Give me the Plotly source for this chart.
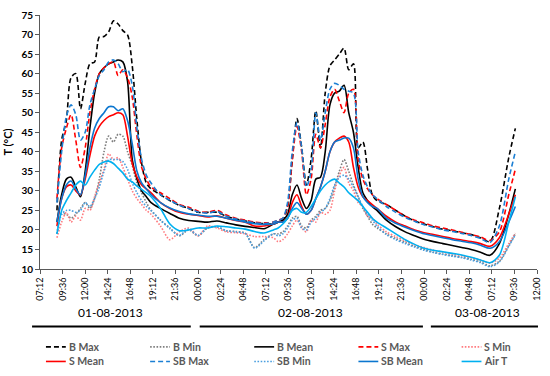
import plotly.graph_objects as go
import pandas as pd

# ---------------- data ----------------
# hours after 2013-08-01 00:00
hours = [9, 9.5, 10, 10.5, 11, 11.5, 12, 12.5, 13, 13.5, 14, 14.5, 15, 15.5, 16, 16.5, 17, 17.5, 18, 18.5, 19,
         20, 21, 22, 23, 24, 25, 26, 27, 28, 29, 30, 31,
         32, 32.5, 33, 33.5, 34, 34.5, 35, 35.5, 36, 36.5, 37, 37.5, 38, 38.5, 39, 39.5, 40, 40.5, 41, 41.5, 42, 42.5, 43,
         44, 45, 46, 47, 48, 49, 50, 51, 52, 53, 54, 55, 56, 57, 57.7]

b_max = [25, 43, 48, 59, 60, 51, 57.5, 62.5, 63, 69.4, 69.5, 70.7, 73.5, 72.7, 71, 69.9, 62, 48, 37, 32, 30.5,
         29, 27.5, 26.3, 25.5, 24.5, 24.5, 24.5, 23.5, 22.8, 22.3, 21.8, 21.6,
         21.5, 22, 22.5, 26, 38, 48.5, 41, 31.5, 38, 50.5, 41, 55, 62, 63.5, 65, 66.5, 61, 62.5, 41, 42.5, 35.5, 29, 27.5,
         26.5, 25, 23.5, 22.3, 21.5, 20.8, 20.2, 19.8, 19.3, 18.8, 18, 17, 25.5, 38.5, 46]
b_min = [19, 24, 24, 23, 24, 25.5, 27, 25.5, 28, 33, 40, 44, 42.5, 44.5, 44, 40, 36.5, 32, 29.5, 27, 25,
         22.5, 20.5, 18.5, 20, 18.5, 20.5, 20.8, 19.8, 19.6, 19.2, 15.5, 17.5,
         19, 19, 19.5, 21, 23, 23.5, 21, 20.5, 22.5, 23.5, 25, 25.5, 27.5, 31, 35, 38, 35, 31.5, 28.5, 25.5, 23.5, 21.5, 20.5,
         19, 17.8, 16.8, 15.8, 15, 14.3, 13.8, 13.4, 13, 12.5, 11.8, 10.8, 12, 16, 19]
b_mean = [22, 29, 33, 33.5, 31, 28.5, 35, 46, 55, 60, 61.5, 62.5, 63, 63.5, 63, 58, 38, 33, 30, 28.5, 27,
          25.5, 24.2, 23, 22.4, 22.2, 22, 22.3, 21.8, 21.3, 20.9, 20.6, 20.3,
          21.5, 22, 22.5, 24, 29, 31.5, 28, 25.5, 27.5, 33, 33.5, 40, 52, 55, 55.5, 57, 50, 45, 36, 29.5, 27.5, 26, 25,
          22.5, 20.8, 19.5, 18.5, 17.6, 17, 16.5, 16, 15.5, 15, 14.3, 13.5, 16.5, 24, 30.5]
s_max = [28, 41, 46, 49.5, 43, 36, 41, 50, 56, 60, 61.5, 62.5, 63, 59.5, 61, 59, 54, 44, 36, 33, 31,
         29.5, 28, 26.5, 25.8, 24.8, 24.5, 25, 23.8, 23, 22.5, 22, 21.8,
         22, 22.5, 23, 26, 38, 46.5, 40, 29, 33, 44.5, 41, 47, 54, 56, 53, 50, 55, 56, 38, 33, 30.5, 29, 28,
         26.5, 25, 23.5, 22.5, 21.8, 21, 20.5, 20, 19.4, 18.8, 18.2, 17.3, 19.5, 29, 35.5]
s_min = [18, 22, 24.5, 22, 23.5, 22.5, 25.5, 25, 28.5, 32, 35.5, 39.5, 38, 38.5, 36, 33, 30, 28, 26.5, 25, 24,
         21, 17.5, 19.5, 20.5, 18.5, 21, 20.5, 19.5, 19.3, 19, 18.3, 18.3,
         18, 17, 17.5, 19, 21, 22.5, 20.5, 19.5, 22.5, 22, 24.5, 24, 25, 30, 34, 36, 32, 30, 27, 26, 23.5, 23, 21.5,
         19.5, 18.3, 17.2, 16.2, 15.5, 14.8, 14.3, 13.8, 13.4, 12.9, 12.3, 11.5, 12.8, 16.5, 19.2]
s_mean = [21, 28, 31, 31.5, 30, 29, 33, 39, 44, 46.5, 48, 49, 49.5, 50, 49.5, 44, 37, 33.5, 31.5, 30.5, 29.5,
          27, 25.5, 24.5, 24, 23.7, 23.3, 23.6, 23, 22.4, 22, 21, 21,
          21.5, 22, 22, 23, 27, 29, 26, 24, 25, 28, 31, 35, 40, 42.5, 43.5, 44, 42.5, 36, 31, 28.5, 27.5, 26.5, 25.5,
          23.5, 22, 21, 20, 19.3, 18.8, 18.3, 17.8, 17.4, 17, 16.5, 15.8, 18, 24, 29]
sb_max = [27, 40, 49, 52, 49.5, 43, 45, 52, 56, 59.5, 61, 63, 63.5, 62.5, 60.5, 61, 57, 46, 38, 34, 32,
          29, 27.6, 26.3, 25.5, 24.6, 24.3, 24.7, 23.5, 22.8, 22.3, 21.8, 21.6,
          22, 22.5, 23, 27, 40, 47.5, 41, 31, 35, 50, 43, 50, 56, 57.5, 57, 56, 55.5, 55, 40, 34, 31, 29, 28,
          26, 24.5, 23.2, 22.2, 21.3, 20.7, 20, 19.6, 19.1, 18.6, 17.8, 16.8, 21, 33, 40]
sb_min = [19, 24, 25, 25, 24.5, 25, 27, 26, 28, 31, 35, 38, 38, 38, 37.5, 35.5, 32, 29.5, 27.5, 26, 25,
          22.5, 20.3, 18.6, 20.2, 18.6, 20.6, 20.8, 19.8, 19.5, 19.1, 15.3, 17.2,
          19, 18.5, 19, 20.5, 22.5, 23, 20.5, 20, 22, 23, 24.5, 25.5, 28, 31.5, 33.5, 34, 33, 31, 28.5, 26, 24, 22.5, 21,
          18.8, 17.5, 16.5, 15.6, 14.8, 14.2, 13.7, 13.3, 12.9, 12.3, 11.6, 10.6, 11.8, 15.8, 18.8]
sb_mean = [22, 28, 31.5, 32.5, 30.5, 29, 34, 41, 46, 48.5, 50, 51.5, 51.5, 50.5, 51, 48, 42, 35, 32, 30.5, 29,
           27, 25.6, 24.7, 24.1, 23.8, 23.5, 23.5, 23, 22.5, 22, 21.6, 21.4,
           21.5, 22, 22, 23, 25.5, 27, 25.5, 24, 25, 28, 31, 35, 40, 42.5, 43, 43.5, 43.5, 41, 33, 28.5, 27, 26, 25.5,
           23, 21.7, 20.7, 19.8, 19, 18.5, 18, 17.5, 17.1, 16.7, 16.1, 15.3, 17, 22, 26]
air_t = [19, 25, 27.5, 29.5, 31.5, 32.5, 31.5, 33.5, 35.3, 36.8, 37.4, 37.6, 37, 35.8, 34.6, 33, 32.3, 31.2, 30.4, 29.5, 28.5,
         25.5, 21.5, 19.8, 20, 20.5, 20.5, 21, 20.8, 20.5, 20.2, 19.6, 19.2,
         20, 20.5, 21.5, 23, 25, 25.5, 24.5, 24.5, 26, 28, 30, 31.5, 32.5, 33, 32, 31, 29.5, 28.5, 27.5, 26, 24.5, 23, 22,
         20.5, 19, 17.5, 16.3, 15.3, 14.8, 14.4, 14, 13.6, 13, 12.3, 11.6, 13.5, 22, 28.5]

series_names = ["B Max", "B Min", "B Mean", "S Max", "S Min",
                "S Mean", "SB Max", "SB Min", "SB Mean", "Air T"]
series_values = [b_max, b_min, b_mean, s_max, s_min, s_mean, sb_max, sb_min, sb_mean, air_t]
date_labels = ["01-08-2013", "02-08-2013", "03-08-2013"]
# x tick positions: hours after 2013-08-01 00:00, labelled HH:MM
tick_hours = [7.2, 9.6, 12.0, 14.4, 16.8, 19.2, 21.6, 24.0, 26.4, 28.8, 31.2, 33.6,
              36.0, 38.4, 40.8, 43.2, 45.6, 48.0, 50.4, 52.8, 55.2, 57.6, 60.0]
tick_text = ["07:12", "09:36", "12:00", "14:24", "16:48", "19:12", "21:36", "00:00",
             "02:24", "04:48", "07:12", "09:36", "12:00", "14:24", "16:48", "19:12",
             "21:36", "00:00", "02:24", "04:48", "07:12", "09:36", "12:00"]

# ---------------- styles ----------------
DASH = "5px,3px"
DOT = "1.6px,1.6px"
styles = {
    "B Max":   dict(color="#000000", dash=DASH, width=1.6),
    "B Min":   dict(color="#7F7F7F", dash=DOT, width=1.6),
    "B Mean":  dict(color="#000000", dash="solid", width=1.6),
    "S Max":   dict(color="#FF0000", dash=DASH, width=1.6),
    "S Min":   dict(color="#FF7C80", dash=DOT, width=1.6),
    "S Mean":  dict(color="#FF0000", dash="solid", width=1.6),
    "SB Max":  dict(color="#1B7FD4", dash=DASH, width=1.6),
    "SB Min":  dict(color="#4A9FE0", dash=DOT, width=1.6),
    "SB Mean": dict(color="#0B76CF", dash="solid", width=1.6),
    "Air T":   dict(color="#00B0F0", dash="solid", width=1.6),
}

base = pd.Timestamp("2013-08-01 00:00")
times = [base + pd.Timedelta(hours=h) for h in hours]
tick_vals = [(base + pd.Timedelta(hours=h)).strftime("%Y-%m-%d %H:%M:%S") for h in tick_hours]

FONT = "Lato, 'Open Sans', sans-serif"
W, H = 550, 376
ML, MR, MT, MB = 38, 11, 8, 107
PW, PH = W - ML - MR, H - MT - MB


def px_x(px):
    return (px - ML) / PW


def px_y(py):
    return (H - MB - py) / PH


fig = go.Figure()
for name, vals in zip(series_names, series_values):
    st = styles[name]
    fig.add_trace(go.Scatter(
        x=times, y=vals, mode="lines", name=name, showlegend=False,
        line=dict(color=st["color"], dash=st["dash"], width=st["width"],
                  shape="spline", smoothing=0.8),
        hoverinfo="skip"))

shapes = []
annotations = []

# date labels and underline bars
date_centers = [109, 311, 489]
for lbl, cx in zip(date_labels, date_centers):
    annotations.append(dict(text=lbl, x=px_x(cx), y=px_y(314), xref="paper", yref="paper",
                            showarrow=False, xanchor="center", yanchor="middle",
                            font=dict(family=FONT, size=12, color="#000000")))
for x0, x1 in [(30, 190), (199, 424), (432, 540)]:
    shapes.append(dict(type="line", xref="paper", yref="paper",
                       x0=px_x(x0), x1=px_x(x1), y0=px_y(328), y1=px_y(328),
                       line=dict(color="#000000", width=2)))

# legend (two rows of five)
col_x = [44, 149, 254, 359, 463]
row_y = [349, 364]
for i, name in enumerate(series_names):
    r, c = divmod(i, 5)
    st = styles[name]
    x0 = col_x[c]
    y = row_y[r]
    shapes.append(dict(type="line", xref="paper", yref="paper",
                       x0=px_x(x0), x1=px_x(x0 + 20), y0=px_y(y), y1=px_y(y),
                       line=dict(color=st["color"], width=1.6, dash=st["dash"])))
    annotations.append(dict(text=name, x=px_x(x0 + 21), y=px_y(y), xref="paper", yref="paper",
                            showarrow=False, xanchor="left", yanchor="middle",
                            font=dict(family=FONT, size=10.5, color="#595959", weight="bold")))

fig.update_layout(
    width=W, height=H,
    margin=dict(l=ML, r=MR, t=MT, b=MB),
    paper_bgcolor="white", plot_bgcolor="white",
    font=dict(family=FONT, color="#000000"),
    shapes=shapes, annotations=annotations,
    showlegend=False,
    xaxis=dict(
        type="date",
        range=[tick_vals[0], tick_vals[-1]],
        tickmode="array", tickvals=tick_vals, ticktext=tick_text,
        tickangle=-90, ticklabeloverflow="allow",
        ticks="outside", ticklen=4, tickcolor="#595959",
        showline=True, linecolor="#595959", linewidth=1,
        showgrid=False, zeroline=False,
        tickfont=dict(family=FONT, size=9, color="#000000"),
    ),
    yaxis=dict(
        range=[10, 75], dtick=5,
        ticks="outside", ticklen=4, tickcolor="#595959",
        showline=True, linecolor="#595959", linewidth=1,
        showgrid=False, zeroline=False,
        tickfont=dict(family=FONT, size=10, color="#000000", weight="bold"),
        title=dict(text="T (°C)", standoff=6,
                   font=dict(family=FONT, size=11, color="#000000", weight="bold")),
    ),
)

fig.write_html("out.html",
               config={"displayModeBar": False},
               post_script="document.body.style.margin='0';document.body.style.padding='0';")
